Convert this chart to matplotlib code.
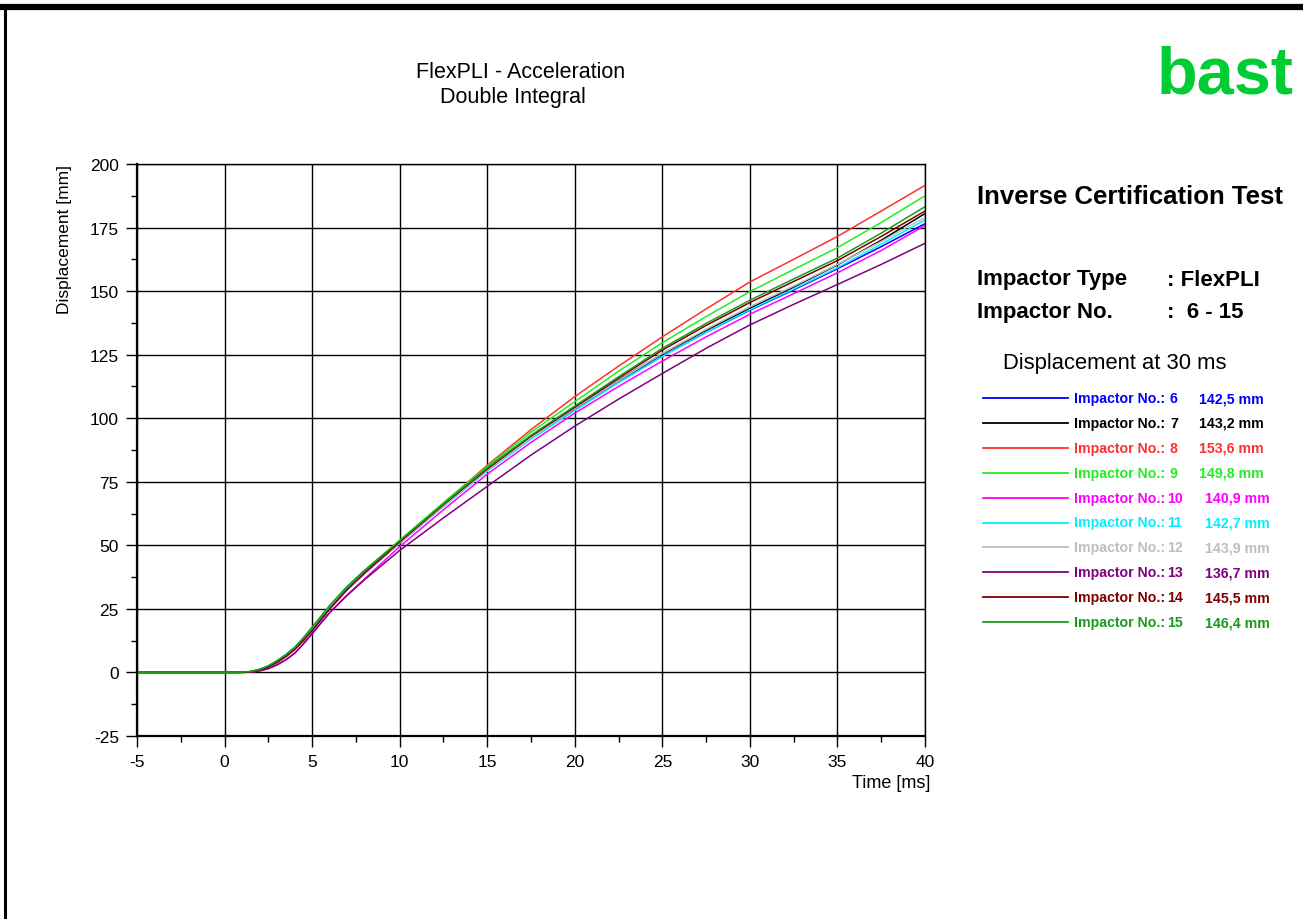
"""
FlexPLI inverse certification test - acceleration double integral
"""
import matplotlib
matplotlib.use('Agg')
import matplotlib.pyplot as plt
from matplotlib.lines import Line2D
from matplotlib.ticker import MultipleLocator

plt.rcParams['font.family'] = ['Liberation Sans', 'DejaVu Sans']
plt.rcParams['axes.unicode_minus'] = False

W, H = 1303, 920

# ============================================================
# DATA
# ============================================================
time_ms = [-5, 0, 1, 1.5, 2, 2.5, 3, 3.5, 4, 4.5, 5, 5.5, 6, 7, 8,
           10, 12.5, 15, 17.5, 20, 22.5, 25, 27.5, 30, 32.5, 35, 37.5, 40]

disp_06 = [0, 0, 0.05, 0.3, 1.0, 2.2, 4.0, 6.3, 9.0, 12.6, 16.5, 20.7, 25, 32.5, 39,
           51, 65.5, 79.5, 92, 103.5, 114.5, 124.5, 133.8, 142.5, 150.5, 158.8, 167.5, 176.5]
disp_07 = [0, 0, 0.05, 0.3, 1.0, 2.2, 4.0, 6.3, 9.0, 12.6, 16.5, 20.7, 25, 32.5, 39,
           51, 65.5, 79.7, 92.5, 104, 115, 125.3, 134.6, 143.2, 151.6, 160.3, 170, 180.5]
disp_08 = [0, 0, 0.05, 0.3, 1.0, 2.2, 4.0, 6.3, 9.0, 12.6, 16.5, 20.8, 25.2, 32.8, 39.5,
           51.5, 66.5, 81.5, 95.5, 108.5, 120.5, 132, 143, 153.6, 162.5, 171.5, 181.5, 191.6]
disp_09 = [0, 0, 0.1, 0.4, 1.2, 2.6, 4.6, 7.0, 9.8, 13.6, 17.8, 22.0, 26.3, 33.8, 40.2,
           52, 66.8, 81, 94.5, 106.5, 118.5, 129.7, 140, 149.8, 158.5, 167.1, 177, 187.5]
disp_10 = [0, 0, 0.02, 0.15, 0.6, 1.5, 3.0, 5.0, 7.5, 11.2, 15.2, 19.4, 23.5, 30.5, 36.8,
           49.5, 64, 78, 90.5, 102, 112.5, 122.5, 132, 140.9, 149, 157.2, 166, 175.8]
disp_11 = [0, 0, 0.1, 0.4, 1.2, 2.6, 4.6, 7.0, 9.8, 13.5, 17.5, 21.6, 25.8, 33.2, 39.5,
           51, 65.3, 79.2, 91.8, 103, 114, 124.3, 133.8, 142.7, 150.8, 159.2, 168.5, 178]
disp_12 = [0, 0, 0.05, 0.3, 1.0, 2.2, 4.0, 6.3, 9.0, 12.6, 16.5, 20.7, 25, 32.5, 39,
           51, 65.5, 79.6, 92.3, 103.8, 114.8, 125.5, 135, 143.9, 152, 160.5, 169.5, 179]
disp_13 = [0, 0, 0.02, 0.15, 0.6, 1.5, 3.0, 5.0, 7.5, 11.2, 15.2, 19.4, 23.5, 30.3, 36.5,
           48, 60.8, 73.2, 85.5, 96.9, 107.5, 117.6, 127.5, 136.7, 144.8, 152.6, 160.5, 168.8]
disp_14 = [0, 0, 0.05, 0.3, 1.0, 2.2, 4.0, 6.3, 9.0, 12.6, 16.5, 20.8, 25, 32.7, 39.2,
           51.3, 66, 80, 93, 104.3, 115.8, 126.8, 136.5, 145.5, 153.8, 162, 171.5, 181.5]
disp_15 = [0, 0, 0.1, 0.4, 1.2, 2.6, 4.6, 7.0, 9.8, 13.6, 17.8, 22.0, 26.3, 33.8, 40.2,
           51.8, 66.3, 80.5, 93.3, 104.8, 116.3, 127.5, 137.3, 146.4, 154.8, 163, 172.8, 183.2]

impactor_no = [6, 7, 8, 9, 10, 11, 12, 13, 14, 15]
disp_at_30 = ['142,5', '143,2', '153,6', '149,8', '140,9',
              '142,7', '143,9', '136,7', '145,5', '146,4']
curves = [disp_06, disp_07, disp_08, disp_09, disp_10,
          disp_11, disp_12, disp_13, disp_14, disp_15]
colors = ['#0000FF', '#000000', '#FF3030', '#22EE22', '#FF00FF',
          '#00F0FF', '#BEBEBE', '#800080', '#800000', '#199B19']

x_ticks = [-5, 0, 5, 10, 15, 20, 25, 30, 35, 40]
y_ticks = [-25, 0, 25, 50, 75, 100, 125, 150, 175, 200]


def fx(px):
    return px / W


def fy(py):
    return 1 - py / H


# ============================================================
# FIGURE
# ============================================================
fig = plt.figure(figsize=(W / 100, H / 100), dpi=100)
fig.patch.set_facecolor('white')

# page frame (top bar and left edge)
fig.add_artist(Line2D([fx(3), 1.0], [fy(8), fy(8)], color='black', lw=4.5))
fig.add_artist(Line2D([fx(5), fx(5)], [0, fy(8)], color='black', lw=2.2))

ax = fig.add_axes([fx(137), fy(737), fx(925) - fx(137), fy(165) - fy(737)])
for disp, col in zip(curves, colors):
    ax.plot(time_ms, disp, color=col, lw=1.1)

ax.set_xlim(-5, 40)
ax.set_ylim(-25, 200)
ax.set_xticks(x_ticks)
ax.set_yticks(y_ticks)
ax.xaxis.set_minor_locator(MultipleLocator(2.5))
ax.yaxis.set_minor_locator(MultipleLocator(12.5))
ax.grid(True, which='major', color='black', lw=1.0)
ax.tick_params(which='major', length=8, width=1, labelsize=12.5, direction='out', pad=5)
ax.tick_params(which='minor', length=4, width=1, direction='out')
for s in ax.spines.values():
    s.set_linewidth(1.0)
ax.spines['left'].set_linewidth(1.6)
ax.spines['bottom'].set_linewidth(1.6)

ax.set_xlabel('Time [ms]', fontsize=13, loc='right', labelpad=5)
ax.xaxis.set_label_coords((930 - 137) / 788, -(784 - 737) / 572)
ax.xaxis.label.set_va('center')
ax.set_ylabel('Displacement [mm]', fontsize=12.5, loc='top')
ax.yaxis.set_label_coords((72 - 137) / 788, 1.0)

# title
fig.text(fx(521), fy(72), 'FlexPLI - Acceleration', fontsize=15.5, ha='center', va='center')
fig.text(fx(513), fy(98), 'Double Integral', fontsize=15.5, ha='center', va='center')

# logo
fig.text(fx(1294), fy(94), 'bast', fontsize=48, fontweight='bold', color='#00CC33',
         ha='right', va='baseline')

# info block
fig.text(fx(977), fy(197), 'Inverse Certification Test', fontsize=18.5, fontweight='bold',
         ha='left', va='center')
fig.text(fx(977), fy(280), 'Impactor Type', fontsize=16, fontweight='bold', ha='left', va='center')
fig.text(fx(1167), fy(280), ': FlexPLI', fontsize=16, fontweight='bold', ha='left', va='center')
fig.text(fx(977), fy(313), 'Impactor No.', fontsize=16, fontweight='bold', ha='left', va='center')
fig.text(fx(1167), fy(313), ':  6 - 15', fontsize=16, fontweight='bold', ha='left', va='center')
fig.text(fx(1003), fy(364), 'Displacement at 30 ms', fontsize=15.8, ha='left', va='center')

# legend rows
for i, (num, val, col) in enumerate(zip(impactor_no, disp_at_30, colors)):
    yy = fy(399 + i * 24.9)
    fig.add_artist(Line2D([fx(983), fx(1068)], [yy, yy], color=col, lw=1.3))
    fig.text(fx(1074), yy, 'Impactor No.:', fontsize=10.2, fontweight='bold', color=col,
             ha='left', va='center')
    x_num = 1170 if num < 10 else 1167
    fig.text(fx(x_num), yy, str(num), fontsize=10.2, fontweight='bold', color=col,
             ha='left', va='center')
    x_val = 1199 if num < 10 else 1205
    fig.text(fx(x_val), yy, f'{val} mm', fontsize=10.2, fontweight='bold', color=col,
             ha='left', va='center')

plt.savefig('out.png', dpi=100)
plt.close()
